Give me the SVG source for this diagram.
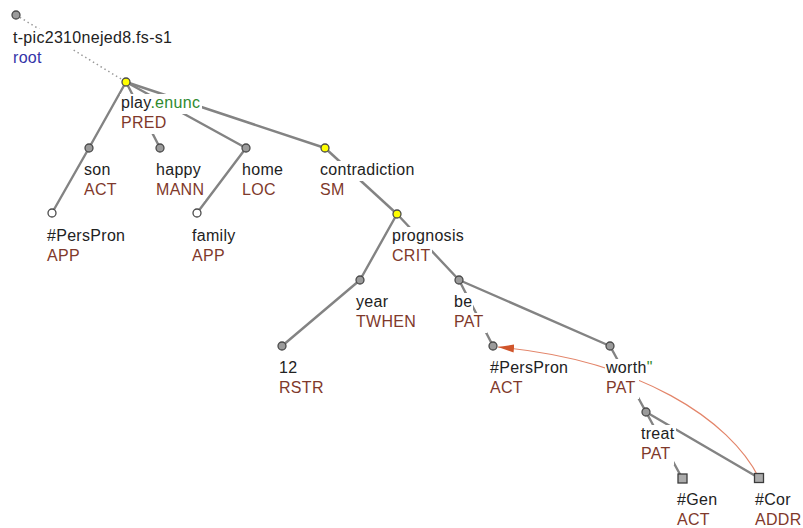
<svg xmlns="http://www.w3.org/2000/svg" width="803" height="528" viewBox="0 0 803 528">
<style>
text{font-family:"Liberation Sans",Arial,sans-serif;font-size:16px;letter-spacing:0.3px;fill:#222}
.f{fill:#7f392b}
.r{fill:#3434a8}
.g{fill:#2f8a2f}
.bg{fill:#fff}
.e{stroke:#838383;stroke-width:2.4;fill:none;stroke-linecap:round}
.d{stroke:#9a9a9a;stroke-width:1.5;fill:none;stroke-dasharray:1.5 3}
.c{stroke:#e3856a;stroke-width:1.2;fill:none}
.n{fill:#9b9b9b;stroke:#4a4a4a;stroke-width:1.3}
.y{fill:#ffff00;stroke:#4a4a4a;stroke-width:1.3}
.w{fill:#fff;stroke:#4a4a4a;stroke-width:1.3}
.s{fill:#ababab;stroke:#3c3c3c;stroke-width:1.3}
</style>
<defs>
<marker id="ah" markerWidth="18" markerHeight="10" refX="16" refY="5" orient="auto" markerUnits="userSpaceOnUse"><path d="M0,1 L16,5 L0,9 z" fill="#d0552b"/></marker>
</defs>
<g id="connectors">
<line class="d" x1="16" y1="15" x2="126" y2="82"/>
<line class="e" x1="126" y1="82" x2="89" y2="148"/>
<line class="e" x1="89" y1="148" x2="52" y2="213"/>
<line class="e" x1="126" y1="82" x2="160" y2="148"/>
<line class="e" x1="126" y1="82" x2="246" y2="148"/>
<line class="e" x1="246" y1="148" x2="197" y2="213"/>
<line class="e" x1="126" y1="82" x2="325" y2="148"/>
<line class="e" x1="325" y1="148" x2="397" y2="214"/>
<line class="e" x1="397" y1="214" x2="360" y2="280"/>
<line class="e" x1="360" y1="280" x2="282" y2="346"/>
<line class="e" x1="397" y1="214" x2="459" y2="280"/>
<line class="e" x1="459" y1="280" x2="493" y2="346"/>
<line class="e" x1="459" y1="280" x2="610" y2="346"/>
<line class="e" x1="610" y1="346" x2="646" y2="412"/>
<line class="e" x1="646" y1="412" x2="682" y2="478"/>
<line class="e" x1="646" y1="412" x2="759" y2="478"/>
<path class="c" d="M759,478 C730,420 640,360 498,347" marker-end="url(#ah)"/>
</g>
<g id="n-root">
<rect class="bg" x="12" y="29" width="161" height="20"/>
<rect class="bg" x="12" y="49" width="31" height="20"/>
<text x="13" y="43">t-pic2310nejed8.fs-s1</text>
<text x="13" y="63" class="r">root</text>
<circle class="n" cx="16" cy="15" r="4"/>
</g>
<g id="n-play">
<rect class="bg" x="120" y="94" width="82" height="20"/>
<rect class="bg" x="120" y="114" width="48" height="20"/>
<text x="121" y="108">play<tspan class="g">.enunc</tspan></text>
<text x="121" y="128" class="f">PRED</text>
<circle class="y" cx="126" cy="82" r="4"/>
</g>
<g id="n-son">
<rect class="bg" x="83" y="161" width="29" height="20"/>
<rect class="bg" x="83" y="181" width="35" height="20"/>
<text x="84" y="175">son</text>
<text x="84" y="195" class="f">ACT</text>
<circle class="n" cx="89" cy="148" r="4"/>
</g>
<g id="n-perspron-app">
<rect class="bg" x="46" y="227" width="80" height="20"/>
<rect class="bg" x="46" y="247" width="35" height="20"/>
<text x="47" y="241">#PersPron</text>
<text x="47" y="261" class="f">APP</text>
<circle class="w" cx="52" cy="213" r="4"/>
</g>
<g id="n-happy">
<rect class="bg" x="155" y="161" width="47" height="20"/>
<rect class="bg" x="155" y="181" width="50" height="20"/>
<text x="156" y="175">happy</text>
<text x="156" y="195" class="f">MANN</text>
<circle class="n" cx="160" cy="148" r="4"/>
</g>
<g id="n-home">
<rect class="bg" x="241" y="161" width="43" height="20"/>
<rect class="bg" x="241" y="181" width="36" height="20"/>
<text x="242" y="175">home</text>
<text x="242" y="195" class="f">LOC</text>
<circle class="n" cx="246" cy="148" r="4"/>
</g>
<g id="n-family">
<rect class="bg" x="191" y="227" width="46" height="20"/>
<rect class="bg" x="191" y="247" width="35" height="20"/>
<text x="192" y="241">family</text>
<text x="192" y="261" class="f">APP</text>
<circle class="w" cx="197" cy="213" r="4"/>
</g>
<g id="n-contradiction">
<rect class="bg" x="319" y="161" width="97" height="20"/>
<rect class="bg" x="319" y="181" width="27" height="20"/>
<text x="320" y="175">contradiction</text>
<text x="320" y="195" class="f">SM</text>
<circle class="y" cx="325" cy="148" r="4"/>
</g>
<g id="n-prognosis">
<rect class="bg" x="391" y="227" width="74" height="20"/>
<rect class="bg" x="391" y="247" width="41" height="20"/>
<text x="392" y="241">prognosis</text>
<text x="392" y="261" class="f">CRIT</text>
<circle class="y" cx="397" cy="214" r="4"/>
</g>
<g id="n-year">
<rect class="bg" x="355" y="293" width="34" height="20"/>
<rect class="bg" x="355" y="313" width="62" height="20"/>
<text x="356" y="307">year</text>
<text x="356" y="327" class="f">TWHEN</text>
<circle class="n" cx="360" cy="280" r="4"/>
</g>
<g id="n-12">
<rect class="bg" x="278" y="359" width="21" height="20"/>
<rect class="bg" x="278" y="379" width="47" height="20"/>
<text x="279" y="373">12</text>
<text x="279" y="393" class="f">RSTR</text>
<circle class="n" cx="282" cy="346" r="4"/>
</g>
<g id="n-be">
<rect class="bg" x="453" y="293" width="20" height="20"/>
<rect class="bg" x="453" y="313" width="34" height="20"/>
<text x="454" y="307">be</text>
<text x="454" y="327" class="f">PAT</text>
<circle class="n" cx="459" cy="280" r="4"/>
</g>
<g id="n-perspron-act">
<rect class="bg" x="489" y="359" width="80" height="20"/>
<rect class="bg" x="489" y="379" width="35" height="20"/>
<text x="490" y="373">#PersPron</text>
<text x="490" y="393" class="f">ACT</text>
<circle class="n" cx="493" cy="346" r="4"/>
</g>
<g id="n-worth">
<rect class="bg" x="605" y="359" width="49" height="20"/>
<rect class="bg" x="605" y="379" width="34" height="20"/>
<text x="606" y="373">worth<tspan class="g">"</tspan></text>
<text x="606" y="393" class="f">PAT</text>
<circle class="n" cx="610" cy="346" r="4"/>
</g>
<g id="n-treat">
<rect class="bg" x="640" y="425" width="36" height="20"/>
<rect class="bg" x="640" y="445" width="34" height="20"/>
<text x="641" y="439">treat</text>
<text x="641" y="459" class="f">PAT</text>
<circle class="n" cx="646" cy="412" r="4"/>
</g>
<g id="n-gen">
<rect class="bg" x="676" y="491" width="42" height="20"/>
<rect class="bg" x="676" y="511" width="35" height="17"/>
<text x="677" y="505">#Gen</text>
<text x="677" y="525" class="f">ACT</text>
<rect class="s" x="678" y="474" width="9" height="9"/>
</g>
<g id="n-cor">
<rect class="bg" x="754" y="491" width="38" height="20"/>
<rect class="bg" x="754" y="511" width="49" height="17"/>
<text x="755" y="505">#Cor</text>
<text x="755" y="525" class="f">ADDR</text>
<rect class="s" x="754.5" y="473.5" width="9" height="9"/>
</g>
</svg>
